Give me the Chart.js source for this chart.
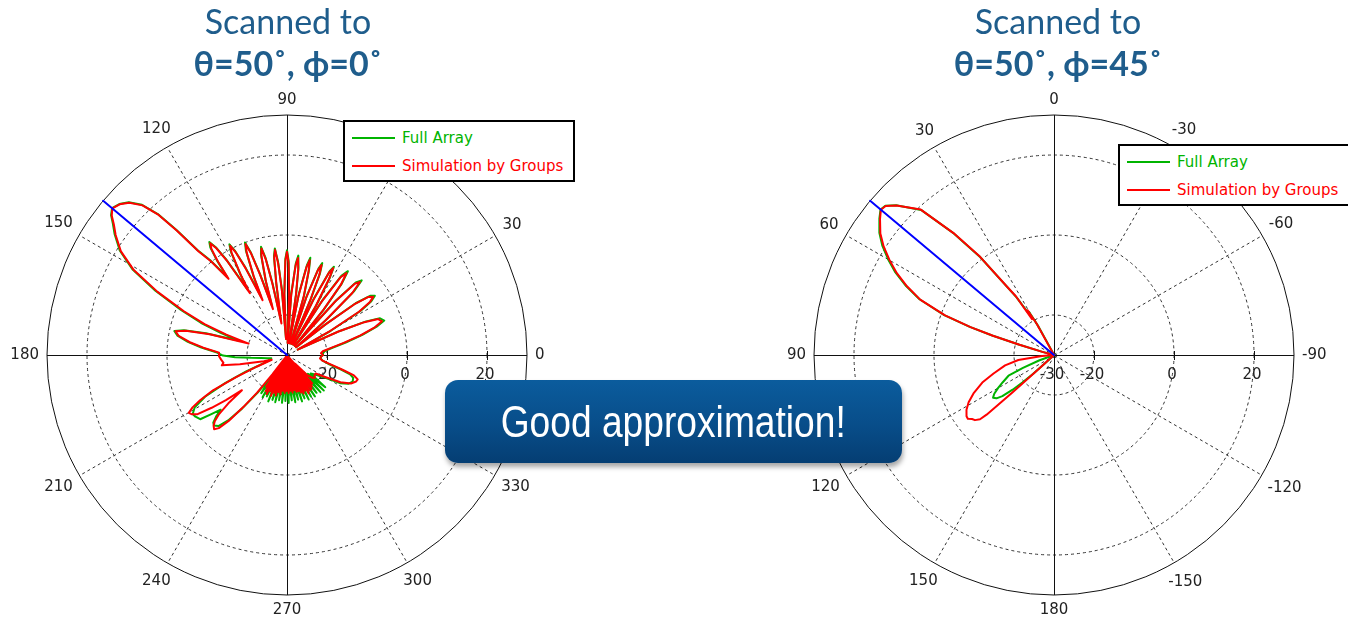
<!DOCTYPE html>
<html>
<head>
<meta charset="utf-8">
<script src="https://cdn.jsdelivr.net/npm/chart.js@4.4.1/dist/chart.umd.min.js"></script>
<style>
  html, body { margin: 0; padding: 0; background: #fff; }
  body { width: 1348px; height: 622px; position: relative; overflow: hidden; }
  canvas { position: absolute; left: 0; top: 0; }
  .title { position: absolute; top: 0; width: 400px; text-align: center; color: #1f5d8c;
           font-family: Lato, "Noto Sans", sans-serif; font-size: 34px; line-height: 42px; }
  .title b { font-weight: bold; }
  .legend { position: absolute; box-sizing: border-box; width: 232px; height: 62px;
            border: 2px solid #000; background: #fff; font-family: "DejaVu Sans", sans-serif; font-size: 15px; }
  .legend .row { position: absolute; left: 0; height: 20px; white-space: nowrap; }
  .legend .swatch { position: absolute; left: 7px; top: 9px; width: 43px; height: 2px; }
  .legend .txt { position: absolute; left: 57px; top: 0; line-height: 20px; }
  .callout { position: absolute; left: 445px; top: 380px; width: 457px; height: 83px; border-radius: 13px;
             background: linear-gradient(to bottom, #0b5c9d 0%, #084d89 55%, #053e73 100%);
             box-shadow: 1px 4px 5px rgba(0,0,0,0.35); color: #fff; text-align: center;
             font-family: "Liberation Sans", sans-serif; font-size: 44px; line-height: 83px; }
  .callout span { display: inline-block; transform: scaleX(0.845); transform-origin: center; }
</style>
</head>
<body>
<canvas id="leftChart" width="1348" height="622"></canvas>
<canvas id="rightChart" width="1348" height="622"></canvas>

<div class="title" style="left:88px;">Scanned to<br><b>θ=50˚, ϕ=0˚</b></div>
<div class="title" style="left:858px;">Scanned to<br><b>θ=50˚, ϕ=45˚</b></div>

<div class="legend" id="leftLegend" style="left:343px; top:120px;"></div>
<div class="legend" id="rightLegend" style="left:1118px; top:144px;"></div>

<div class="callout"><span>Good approximation!</span></div>

<script>
// Series names and colours
const seriesNames = ['Full Array', 'Simulation by Groups'];
const fullColor = '#00b400';
const groupsColor = '#ff0000';
const scanColor = '#0000ff';

// Radial axis (dB)
const radialMin = -30;
const radialMax = 30;
const radialGrid = [-30, -20, 0, 20, 30];
const radialTicks = [-20, 0, 20];
const radialTickLabels = [-30, -20, 0, 20];

// Angle labels, every 30 degrees counter-clockwise from the zero direction
const leftAngleLabels = ['0', '30', '60', '90', '120', '150', '180', '210', '240', '270', '300', '330'];
const rightAngleLabels = ['0', '30', '60', '90', '120', '150', '180', '-150', '-120', '-90', '-60', '-30'];

// Cut phi = 0: [angle (deg, CCW from the right), gain (dB)]
const leftGroups = [
  [0,-21],[3,-21.5],[6,-21],[9,-19],[12,-15.5],[15,-11],[17.5,-7],[19.5,-4.8],[21.5,-5.5],[23,-9],[24.5,-16],[26.5,-27],
  [29,-18],[31,-9],[32.5,-5.5],[34,-4],[35.5,-5],[37,-9],[38.5,-18],[40,-27],
  [42,-17],[43.5,-7.5],[45,-4.2],[46.5,-5.5],[48,-12],[49.5,-27],
  [51,-16],[52.5,-8],[54,-4.7],[55.5,-6.5],[57,-14],[58,-27],
  [59.5,-16],[61,-8.5],[62,-5.4],[63,-7],[64.5,-15],[65.5,-27],
  [67,-15],[68,-8.5],[69,-5.9],[70,-7.5],[71.5,-15],[72.5,-27],
  [74,-15],[75.5,-8.5],[76.5,-5.6],[77.5,-7.5],[79,-15],[80,-27],
  [81.5,-15],[82.5,-8.5],[83.5,-5.6],[84.5,-7.5],[86,-15],[87,-27],
  [88,-15],[89,-7],[90,-4.2],[91,-6.5],[92.5,-15],[93.5,-26],
  [94.5,-14],[95.5,-7],[96.5,-3.6],[97.5,-5.5],[98.5,-12],[100,-22],
  [101.5,-12],[102.5,-5.5],[103.5,-2.6],[104.5,-4.5],[106,-11],[107,-18],
  [108.5,-9],[109.5,-3],[110.5,-0.4],[111.5,-2.5],[113,-9],[114,-15],
  [115.5,-6],[116.5,-1.5],[117.5,0.8],[118.5,-1],[120,-7],[121,-12],
  [122.5,-2],[123.5,2],[124.5,3.9],[125.5,2.5],[126.5,-1],[127.5,-6],
  [129,0],[130.5,4],[131.5,11.5],[132.5,17.5],[134,22],[136,24.8],[138,26.3],[140,27],[141.5,26],[143,24.2],
  [145,22.3],[148,19],[151,13.8],[154,6],[157,-2],[159.5,-8],[161.5,-14],[163.5,-20],
  [165,-10],[166.5,-4],[168,-1.5],[170,-2.5],[172.5,-5.5],[175,-9],[178,-13],[181,-13],[184,-13.5],[187,-14],
  [189,-13.5],[191,-18],[193,-22],[195,-24],[197.5,-26],
  [201,-22],[203.5,-16],[205.5,-9.5],[207.5,-5.5],[209,-3],[210.5,-1.5],[212,-2],[213.5,-3.2],[215,-7],[216.5,-11],[218,-15.7],
  [219.5,-11],[221,-7.5],[222.5,-5.5],[224,-4.5],[225.5,-4],[227,-5],[228.5,-8],[230,-13],[231.5,-18],[233,-24],
  [235,-29],[236.5,-20.5],[238,-29.5],[239.5,-19.5],[241,-29],[242.5,-19],[244,-29.5],[245.5,-20],[247,-29],[248.5,-19],
  [250,-29.5],[251.5,-20],[253,-29],[254.5,-19.5],[256,-29.5],[257.5,-20.5],[259,-29],[260.5,-20],[262,-29.5],[263.5,-21],
  [265,-29],[266.5,-20.5],[268,-29.5],[269.5,-21],[271,-29],[272.5,-20.5],[274,-29.5],[275.5,-21],[277,-29],[278.5,-20.5],
  [280,-29.5],[281.5,-21],[283,-29],[284.5,-20.5],[286,-29.5],[287.5,-20.5],[289,-29],[290.5,-20],[292,-29.5],[293.5,-19.5],
  [295,-29],[296.5,-20],[298,-29.5],[299.5,-19],[301,-29],[302.5,-19.5],[304,-29.5],[305.5,-19.5],[307,-29],[308.5,-20],
  [310,-29],[311.5,-20.5],[313,-27],
  [315,-23],[318,-21.5],[321,-21],[324,-21.5],[327,-21.5],[330,-19],[333,-15],[336,-12.5],[339,-11.5],[341,-11.3],
  [343,-12.5],[345,-15.5],[348,-19],[351,-21],[354,-21.7],[357,-21.5]
];

const leftFull = [
  [0,-21],[3,-21],[6,-20.5],[9,-18.5],[12,-15],[15,-10.5],[17.5,-6.5],[19.5,-4.2],[21.5,-5],[23,-8.5],[24.5,-15.5],[26.5,-27],
  [29,-17.5],[31,-8.5],[32.5,-5],[34,-3.5],[35.5,-4.5],[37,-8.5],[38.5,-17.5],[40,-27],
  [42,-16.5],[43.5,-7],[45,-3.6],[46.5,-5],[48,-11.5],[49.5,-27],
  [51,-15.5],[52.5,-7.5],[54,-4.1],[55.5,-6],[57,-13.5],[58,-27],
  [59.5,-15.5],[61,-8],[62,-5],[63,-6.5],[64.5,-14.5],[65.5,-27],
  [67,-14.5],[68,-8],[69,-5.4],[70,-7],[71.5,-14.5],[72.5,-27],
  [74,-14.5],[75.5,-8],[76.5,-5],[77.5,-7],[79,-14.5],[80,-27],
  [81.5,-14.5],[82.5,-8],[83.5,-5],[84.5,-7],[86,-14.5],[87,-27],
  [88,-14.5],[89,-6.5],[90,-3.8],[91,-6],[92.5,-14.5],[93.5,-26],
  [94.5,-13.5],[95.5,-6.5],[96.5,-3.2],[97.5,-5],[98.5,-11.5],[100,-21],
  [101.5,-11.5],[102.5,-5],[103.5,-2.2],[104.5,-4],[106,-10.5],[107,-17],
  [108.5,-8.5],[109.5,-2.6],[110.5,0],[111.5,-2],[113,-8.5],[114,-14],
  [115.5,-5.5],[116.5,-1],[117.5,1.2],[118.5,-0.6],[120,-6.5],[121,-11],
  [122.5,-1.5],[123.5,2.4],[124.5,4.3],[125.5,3],[126.5,-0.5],[127.5,-5.5],
  [129,0.5],[130.5,4.5],[131.5,11.8],[132.5,17.8],[134,22.2],[136,25],[138,26.4],[140,27.1],[141.5,26.2],[143,24.5],
  [145,22.6],[148,19.3],[151,14.2],[154,6.6],[157,-1.2],[159.5,-7],[161.5,-12.5],[163.5,-17.5],
  [165,-9],[166.5,-3.5],[168,-1.2],[170,-2.2],[172.5,-5],[175,-8.5],[178,-12.5],[180.5,-14],[182.5,-17],[184.5,-21],
  [186.5,-23.5],[189,-25],[192,-26],[196,-25.5],
  [199,-24],[202,-19],[204.5,-13],[207,-7],[209.5,-3.5],[212,-2.2],[214,-2.4],[216.5,-3],[218,-6],[219.5,-8.5],
  [221,-6.5],[222.5,-5],[224,-4.6],[226,-5.3],[228,-8],[230,-12.5],[232,-18],[234,-23],
  [236,-18.5],[238,-24],[240,-17.8],[242,-24],[244,-18.5],[246,-24],[248,-17.5],[250,-24],[252,-18.2],[254,-24],
  [256,-17.8],[258,-24],[260,-18.5],[262,-24],[264,-18],[266,-24],[268,-18.5],[270,-24],[272,-18],[274,-24],
  [276,-18.6],[278,-24],[280,-18],[282,-24],[284,-18.5],[286,-24],[288,-17.8],[290,-24],[292,-18.3],[294,-24],
  [296,-17.6],[298,-24],[300,-18],[302,-24],[304,-17.5],[306,-24],[308,-18],[310,-24],[312,-17.5],[314,-24],
  [316,-17.2],[318,-23],[320,-17.5],[322,-22.5],
  [325,-21.5],[329,-19],[332,-15],[335,-13],[338,-12.3],[341,-12.5],[343,-13.5],[345,-16],[348,-19.5],[351,-21],
  [354,-21.5],[357,-21.5]
];

const leftScan = [[140,30],[140.5,-30]];

// Cut phi = 45: [angle (deg, CCW from the top), gain (dB)]
const rightGroups = [
  [-150,-30],[-90,-30],[-30,-30],[0,-30],[20,-30],[27,-30],[29,-21],[30.5,-17],[31.5,-19.5],[33,-12.5],[34.5,-9.3],
  [37,0.8],[39.5,9.5],[42.5,19.3],[46.5,24.3],[48.5,26.2],[50,26.5],[52,25.2],[55,23],[57.5,20.5],[60,17.5],
  [62.5,14.3],[65,10.5],[67.5,6.2],[70,-1],[71.5,-8],[72.5,-14],[73.5,-21],[75,-27],[80,-30],[90,-30],
  [95,-27],[98,-21],[102,-17.5],[107,-14.2],[111,-10.8],[115.5,-7.7],[119,-5.6],[122,-4.2],[125,-3.3],[126.5,-3.2],
  [128,-4],[129.5,-4.4],[131,-5.5],[131.5,-7.5],[132,-16],[132.5,-25],[134,-30],[150,-30],[180,-30]
];

const rightFull = [
  [-150,-30],[-90,-30],[-30,-30],[0,-30],[20,-30],[27,-29],[28.5,-22],[30,-17.5],[31,-18.5],[33,-12.8],[34.5,-9.5],
  [37,0.6],[39.5,9.4],[42.5,19.2],[46.5,24.4],[48.5,26.3],[50,26.6],[52,25.4],[55,23.3],[57.5,20.9],[60,17.9],
  [62.5,14.7],[65,10.8],[67.5,6.4],[70,-0.8],[71.5,-7.8],[72.5,-13.8],[73.5,-21],[75,-27],[80,-30],[105,-30],
  [110,-26],[112.5,-21.6],[114.5,-17.5],[118,-15.5],[120.5,-13.8],[123,-12.2],[125,-11.4],[127,-12],[128.5,-13.5],
  [130,-16.5],[131,-19.5],[132,-23],[133,-28],[135,-30],[150,-30],[180,-30]
];

const rightScan = [[50,30],[50.5,-30]];

// Angular categories at half-degree spacing; index grows clockwise
const stepsPerDegree = 2;
const angleCategories = Array.from({length: 360 * stepsPerDegree}, (_, i) => String(i / stepsPerDegree));

function toRadar(pairs) {
  const n = angleCategories.length;
  const out = new Array(n).fill(null);
  pairs.forEach(([a, v]) => {
    const idx = ((Math.round(-a * stepsPerDegree) % n) + n) % n;
    out[idx] = v;
  });
  return out;
}

// Spokes, axes, tick marks and labels around each polar grid
const polarFrame = {
  id: 'polarFrame',
  beforeDatasetsDraw(chart, args, opts) {
    const s = chart.scales.r;
    const ctx = chart.ctx;
    const cx = s.xCenter, cy = s.yCenter, R = s.drawingArea;
    const rad = d => d * Math.PI / 180;
    ctx.save();
    ctx.lineWidth = 1;
    ctx.strokeStyle = '#333';
    ctx.setLineDash([3, 3]);
    for (let k = 0; k < 12; k++) {
      if (k % 3 === 0) continue;
      const a = rad(opts.zeroDir + k * 30);
      ctx.beginPath();
      ctx.moveTo(cx + 0.5, cy + 0.5);
      ctx.lineTo(cx + 0.5 + R * Math.cos(a), cy + 0.5 - R * Math.sin(a));
      ctx.stroke();
    }
    ctx.setLineDash([]);
    ctx.strokeStyle = '#111';
    ctx.beginPath();
    ctx.moveTo(cx - R, cy + 0.5); ctx.lineTo(cx + R, cy + 0.5);
    ctx.moveTo(cx + 0.5, cy - R); ctx.lineTo(cx + 0.5, cy + R);
    radialTicks.forEach(v => {
      const x = Math.round(cx + s.getDistanceFromCenterForValue(v)) + 0.5;
      ctx.moveTo(x, cy - 4); ctx.lineTo(x, cy + 5);
    });
    ctx.stroke();

    ctx.fillStyle = '#222';
    ctx.font = '15px "DejaVu Sans"';
    ctx.textAlign = 'center';
    ctx.textBaseline = 'middle';
    radialTickLabels.forEach(v => {
      const x = cx + s.getDistanceFromCenterForValue(v) - 2;
      ctx.fillText(String(v), x, cy + 20);
    });
    const h = 14;
    opts.labels.forEach((t, k) => {
      const a = rad(opts.zeroDir + k * 30);
      const w = ctx.measureText(t).width;
      const d = 248 + Math.abs(Math.cos(a)) * w / 2 + Math.abs(Math.sin(a)) * h / 2;
      ctx.fillText(t, cx + d * Math.cos(a), cy - d * Math.sin(a));
    });
    ctx.restore();
  }
};

function makePolar(canvasId, padding, startAngle, zeroDir, labels, full, groups, scan) {
  return new Chart(document.getElementById(canvasId), {
    type: 'radar',
    data: {
      labels: angleCategories,
      datasets: [
        { label: 'scan', data: toRadar(scan), borderColor: scanColor, borderWidth: 2, fill: false, spanGaps: true },
        { label: seriesNames[1], data: toRadar(groups), borderColor: groupsColor, borderWidth: 2, fill: false, spanGaps: true },
        { label: seriesNames[0], data: toRadar(full), borderColor: fullColor, borderWidth: 2, fill: false, spanGaps: true }
      ]
    },
    options: {
      responsive: false,
      animation: false,
      devicePixelRatio: 1,
      events: [],
      layout: { padding },
      elements: { point: { radius: 0, hitRadius: 0 }, line: { tension: 0, borderJoinStyle: 'round' } },
      plugins: { legend: { display: false }, tooltip: { enabled: false }, polarFrame: { zeroDir, labels } },
      scales: {
        r: {
          min: radialMin,
          max: radialMax,
          startAngle,
          afterBuildTicks: scale => { scale.ticks = radialGrid.map(value => ({ value })); },
          ticks: { display: false },
          pointLabels: { display: false },
          angleLines: { display: false },
          grid: {
            circular: true,
            lineWidth: 1,
            color: c => (c.tick && c.tick.value === radialMax) ? '#111' : '#333'
          },
          border: {
            dash: c => (c.tick && c.tick.value === radialMax) ? [] : [3, 3]
          }
        }
      }
    },
    plugins: [polarFrame]
  });
}

makePolar('leftChart', { left: 47, top: 115, right: 821, bottom: 27 }, 90, 0, leftAngleLabels, leftFull, leftGroups, leftScan);
makePolar('rightChart', { left: 814, top: 115, right: 54, bottom: 27 }, 0, 90, rightAngleLabels, rightFull, rightGroups, rightScan);

// Legends
function buildLegend(id) {
  const box = document.getElementById(id);
  [[seriesNames[0], fullColor], [seriesNames[1], groupsColor]].forEach(([name, col], i) => {
    const row = document.createElement('div');
    row.className = 'row';
    row.style.top = (6 + i * 28) + 'px';
    row.innerHTML = '<span class="swatch" style="background:' + col + '"></span><span class="txt" style="color:' + col + '">' + name + '</span>';
    box.appendChild(row);
  });
}
buildLegend('leftLegend');
buildLegend('rightLegend');
</script>
</body>
</html>
